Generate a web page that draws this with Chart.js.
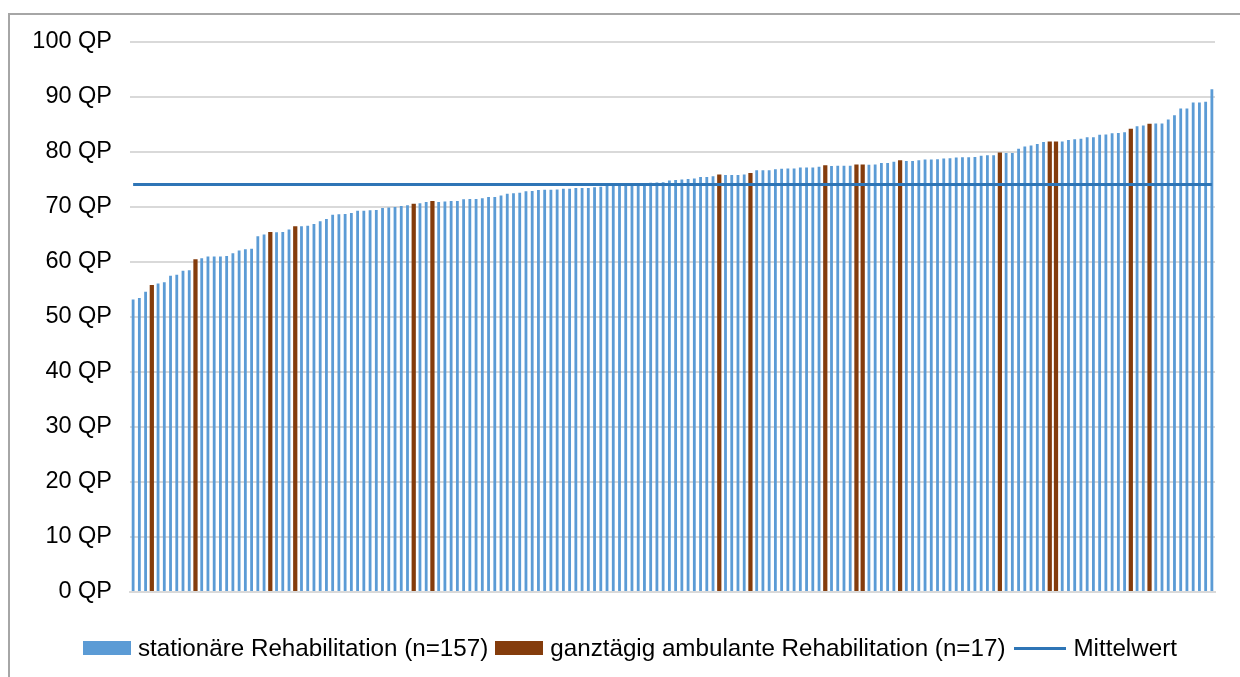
<!DOCTYPE html>
<html lang="de">
<head>
<meta charset="utf-8">
<title>Rehabilitationseinrichtungen – Qualitätspunkte</title>
<script src="https://cdn.jsdelivr.net/npm/chart.js@4/dist/chart.umd.min.js"></script>
<style>
  html, body { margin: 0; padding: 0; background: #fff; }
  body { width: 1240px; height: 677px; position: relative; overflow: hidden;
         font-family: "Liberation Sans", Arial, sans-serif; }
  #frame { position: absolute; left: 8px; top: 13px; width: 1300px; height: 720px;
           border: 2px solid #a6a6a6; box-sizing: border-box; }
  #chart { position: absolute; left: 0; top: 0; }
  #legend { position: absolute; left: 83px; top: 634px; display: flex; align-items: center;
            font-size: 24.2px; color: #000; white-space: nowrap; }
  #legend .item { display: flex; align-items: center; margin-right: 7px; }
  #legend .swatch { width: 48px; height: 14px; margin-right: 7px; }
  #legend .line { width: 52px; height: 3px; margin-left: 2px; margin-right: 7px; }
</style>
</head>
<body>
<div id="frame"></div>
<canvas id="chart" width="1240" height="677"></canvas>
<div id="legend"></div>
<script>
// Qualitätspunkte je Einrichtung, aufsteigend sortiert (174 Einrichtungen)
const scores = [
  53.2, 53.45, 54.6, 55.8, 56.1, 56.3, 57.5, 57.7, 58.4, 58.5,
  60.5, 60.7, 61.0, 61.0, 61.0, 61.1, 61.6, 62.1, 62.3, 62.4,
  64.7, 65.0, 65.45, 65.4, 65.45, 65.9, 66.5, 66.5, 66.6, 66.9,
  67.4, 67.8, 68.6, 68.7, 68.75, 68.9, 69.3, 69.3, 69.4, 69.45,
  69.8, 69.9, 70.0, 70.2, 70.3, 70.6, 70.7, 70.9, 71.1, 70.9,
  71.0, 71.1, 71.1, 71.4, 71.45, 71.45, 71.6, 71.8, 71.8, 72.1,
  72.4, 72.5, 72.6, 72.85, 72.9, 73.1, 73.15, 73.15, 73.2, 73.3,
  73.3, 73.45, 73.45, 73.45, 73.6, 73.7, 73.8, 73.9, 74.0, 74.0,
  74.1, 74.2, 74.3, 74.4, 74.45, 74.5, 74.8, 74.9, 75.0, 75.1,
  75.2, 75.45, 75.45, 75.6, 75.9, 75.8, 75.8, 75.8, 75.9, 76.2,
  76.7, 76.7, 76.7, 76.85, 76.95, 77.0, 77.0, 77.2, 77.2, 77.2,
  77.3, 77.6, 77.45, 77.5, 77.5, 77.5, 77.75, 77.75, 77.7, 77.75,
  78.0, 78.0, 78.25, 78.5, 78.35, 78.35, 78.5, 78.65, 78.65, 78.7,
  78.8, 78.85, 79.0, 79.05, 79.05, 79.1, 79.3, 79.4, 79.4, 79.9,
  79.8, 79.8, 80.6, 81.0, 81.2, 81.45, 81.8, 81.9, 81.9, 81.9,
  82.2, 82.3, 82.4, 82.7, 82.7, 83.15, 83.2, 83.4, 83.45, 83.6,
  84.25, 84.7, 84.8, 85.15, 85.2, 85.2, 85.9, 86.7, 87.9, 87.9,
  89.0, 89.0, 89.15, 91.4
];

// Rangplätze (1-basiert) der ganztägig ambulanten Einrichtungen
const ambulantRanks = [4, 11, 23, 27, 46, 49, 95, 100, 112, 117, 118, 124, 140, 148, 149, 161, 164];

// Mittelwert über alle Einrichtungen
const mittelwert = 74.1;

// Achsenbeschriftung der y-Achse
const yTicks = [0, 10, 20, 30, 40, 50, 60, 70, 80, 90, 100];

const seriesNames = {
  stationaer: 'stationäre Rehabilitation (n=157)',
  ambulant: 'ganztägig ambulante Rehabilitation (n=17)',
  mittel: 'Mittelwert'
};

const colors = { stationaer: '#5b9bd5', ambulant: '#843c0c', mittel: '#2e75b6' };

const labels = scores.map((_, i) => String(i + 1));
const isAmbulant = i => ambulantRanks.includes(i + 1);
const stationaerData = scores.map((v, i) => isAmbulant(i) ? null : v);
const ambulantData = scores.map((v, i) => isAmbulant(i) ? v : null);
const mittelData = scores.map(() => mittelwert);

const FONT = { family: '"Liberation Sans", Arial, sans-serif', size: 23.5 };

new Chart(document.getElementById('chart'), {
  type: 'bar',
  data: {
    labels,
    datasets: [
      {
        type: 'line', label: seriesNames.mittel, data: mittelData,
        borderColor: colors.mittel, borderWidth: 3, pointRadius: 0, order: 0
      },
      {
        label: seriesNames.stationaer, data: stationaerData,
        backgroundColor: colors.stationaer, grouped: false,
        barPercentage: 0.45, categoryPercentage: 1, order: 1
      },
      {
        label: seriesNames.ambulant, data: ambulantData,
        backgroundColor: colors.ambulant, grouped: false,
        barPercentage: 0.68, categoryPercentage: 1, order: 1
      }
    ]
  },
  options: {
    responsive: false,
    animation: false,
    devicePixelRatio: 1,
    layout: { padding: { top: 42, right: 25, bottom: 85, left: 0 } },
    plugins: { legend: { display: false }, tooltip: { enabled: false } },
    scales: {
      x: {
        ticks: { display: false },
        grid: { display: false, drawTicks: false },
        border: { display: true, color: '#d9d9d9', width: 2 },
        afterFit: axis => { axis.height = 0; }
      },
      y: {
        min: 0, max: 100,
        afterBuildTicks: axis => { axis.ticks = yTicks.map(v => ({ value: v })); },
        ticks: {
          padding: 18, color: '#000', font: FONT,
          callback: v => v + ' QP'
        },
        grid: { color: '#d9d9d9', lineWidth: 2, drawTicks: false },
        border: { display: false },
        afterFit: axis => { axis.width = 130; }
      }
    }
  }
});

// Legende unterhalb des Diagramms
const legend = document.getElementById('legend');
[
  { name: seriesNames.stationaer, color: colors.stationaer, kind: 'swatch' },
  { name: seriesNames.ambulant, color: colors.ambulant, kind: 'swatch' },
  { name: seriesNames.mittel, color: colors.mittel, kind: 'line' }
].forEach(entry => {
  const item = document.createElement('div');
  item.className = 'item';
  const mark = document.createElement('span');
  mark.className = entry.kind;
  mark.style.background = entry.color;
  const text = document.createElement('span');
  text.textContent = entry.name;
  item.append(mark, text);
  legend.append(item);
});
</script>
</body>
</html>
